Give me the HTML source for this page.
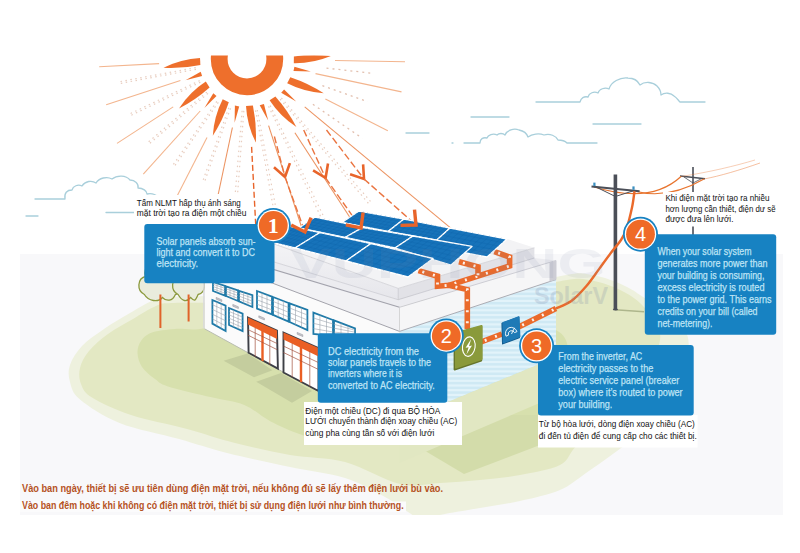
<!DOCTYPE html>
<html lang="vi"><head><meta charset="utf-8"><title>Solar</title>
<style>html,body{margin:0;padding:0;background:#fff;}svg{display:block}</style></head>
<body><svg width="800" height="553" viewBox="0 0 800 553">
<rect x="0" y="0" width="800" height="553" fill="#ffffff"/>
<rect x="20" y="254" width="763" height="261" fill="#f8f8fa"/>
<g fill="none" stroke="#a9cfdb" stroke-width="1.3" stroke-linecap="round" stroke-linejoin="round">
<path d="M35,199 H65 C64,193 67,190 72,190 C73,186 78,184 82,186 C85,181 92,180 96,183 C99,178 107,176 112,179 C117,175 126,175 130,180 C135,180 139,184 138,188 C143,188 147,191 147,194 C152,193 156,195 158,197 L163,198"/>
<path d="M26,216 H38 M106,212.5 H140"/>
<path d="M536,102 H580 C581,98 584,96 588,97 C589,93 594,91 598,93 C599,89 605,87 609,89 C611,82 620,77 628,78 C634,78 638,81 640,85 C645,81 653,82 657,86 C660,89 661,92 661,95 C665,92 671,93 674,96 C677,98 678,100 680,102 H705"/>
<path d="M471,117 H509 M593,124 H641 M406,133 H429 M452,143 H453 M464,143 H480 C480,139 483,137 487,138 C488,135 493,133 497,135 C499,133 503,133 505,135 C507,130 514,128 519,130 C524,131 527,134 528,137 C532,134 539,133 544,135 C550,133 556,136 558,140 C562,140 565,141 567,143 H597"/>
</g>
<defs><clipPath id="clipPic"><rect x="20" y="55.5" width="763" height="459.5"/></clipPath></defs>
<g clip-path="url(#clipPic)">
<path d="M172.0,297.0 C156.0,297.7 161.0,297.3 154.0,300.0 C147.0,302.7 138.3,308.2 130.0,313.0 C121.7,317.8 112.0,323.5 104.0,329.0 C96.0,334.5 87.7,340.0 82.0,346.0 C76.3,352.0 72.0,359.0 70.0,365.0 C68.0,371.0 68.3,376.2 70.0,382.0 C71.7,387.8 71.8,392.7 80.0,399.5 C88.2,406.3 103.0,416.4 119.5,423.0 C136.0,429.6 161.1,434.0 179.0,439.0 C196.9,444.0 208.5,448.3 227.0,453.0 C245.5,457.7 270.3,462.8 290.0,467.0 C309.7,471.2 329.2,473.0 345.0,478.0 C360.8,483.0 374.5,491.3 385.0,497.0 C395.5,502.7 401.5,508.0 408.0,512.0 C414.5,516.0 418.7,520.5 424.0,521.0 C429.3,521.5 430.7,517.2 440.0,515.0 C449.3,512.8 466.7,510.3 480.0,508.0 C493.3,505.7 506.7,504.0 520.0,501.0 C533.3,498.0 549.2,494.6 560.0,490.0 C570.8,485.4 575.5,480.2 585.0,473.7 C594.5,467.2 606.2,459.1 617.0,451.0 C627.8,442.9 640.3,435.2 650.0,425.0 C659.7,414.8 668.7,402.2 675.0,390.0 C681.3,377.8 686.3,362.0 688.0,352.0 C689.7,342.0 688.3,336.5 685.0,330.0 C681.7,323.5 674.8,318.4 668.0,313.0 C661.2,307.6 650.8,301.8 644.0,297.5 C637.2,293.2 633.5,290.2 627.0,287.0 C620.5,283.8 612.3,280.2 605.0,278.0 C597.7,275.8 588.5,274.2 583.0,273.5 C577.5,272.8 576.5,273.4 572.0,274.0 C567.5,274.6 563.0,275.7 556.0,277.0 C549.0,278.3 556.0,278.8 530.0,282.0 C504.0,285.2 446.7,293.7 400.0,296.0 C353.3,298.3 288.0,295.8 250.0,296.0 C212.0,296.2 188.0,296.3 172.0,297.0 Z" fill="#eef1de"/>
<path d="M174.0,303.0 C158.3,303.5 162.8,303.3 156.0,306.0 C149.2,308.7 141.0,314.3 133.0,319.0 C125.0,323.7 115.3,328.7 108.0,334.0 C100.7,339.3 93.7,345.3 89.0,351.0 C84.3,356.7 81.3,362.5 80.0,368.0 C78.7,373.5 79.0,379.1 81.0,384.0 C83.0,388.9 83.7,392.3 92.0,397.5 C100.3,402.7 115.2,409.8 131.0,415.0 C146.8,420.2 169.7,424.3 187.0,429.0 C204.3,433.7 217.8,438.7 235.0,443.0 C252.2,447.3 271.7,451.8 290.0,455.0 C308.3,458.2 326.7,457.2 345.0,462.0 C363.3,466.8 384.2,480.5 400.0,484.0 C415.8,487.5 426.7,483.7 440.0,483.0 C453.3,482.3 466.7,481.3 480.0,480.0 C493.3,478.7 506.7,477.5 520.0,475.0 C533.3,472.5 550.8,469.6 560.0,465.0 C569.2,460.4 568.3,454.2 575.0,447.5 C581.7,440.8 590.8,433.8 600.0,425.0 C609.2,416.2 621.7,405.0 630.0,395.0 C638.3,385.0 645.0,374.2 650.0,365.0 C655.0,355.8 659.0,347.2 660.0,340.0 C661.0,332.8 659.3,328.2 656.0,322.0 C652.7,315.8 645.2,307.9 640.0,303.0 C634.8,298.1 631.0,295.8 625.0,292.5 C619.0,289.2 611.0,285.8 604.0,283.5 C597.0,281.2 588.7,279.7 583.0,279.0 C577.3,278.3 574.5,279.0 570.0,279.5 C565.5,280.0 562.7,280.8 556.0,282.0 C549.3,283.2 556.0,283.8 530.0,287.0 C504.0,290.2 446.7,298.3 400.0,301.0 C353.3,303.7 287.7,302.7 250.0,303.0 C212.3,303.3 189.7,302.5 174.0,303.0 Z" fill="#e3e8c3"/>
<path d="M205.0,328.0 C192.5,331.2 183.8,328.2 175.0,329.0 C166.2,329.8 157.7,330.5 152.0,332.5 C146.3,334.5 143.4,337.6 141.0,341.0 C138.6,344.4 137.3,348.7 137.5,353.0 C137.7,357.3 139.1,362.7 142.0,367.0 C144.9,371.3 150.7,375.8 155.0,379.0 C159.3,382.2 158.6,383.3 168.0,386.4 C177.4,389.4 198.9,394.2 211.6,397.3 C224.3,400.4 234.4,400.9 244.2,404.9 C254.0,408.9 260.9,416.3 270.2,421.2 C279.5,426.1 291.7,431.4 300.0,434.2 C308.3,437.0 308.3,437.0 320.0,438.0 C331.7,439.0 353.3,440.2 370.0,440.0 C386.7,439.8 403.3,436.0 420.0,437.0 C436.7,438.0 455.8,445.5 470.0,446.0 C484.2,446.5 493.3,444.3 505.0,440.0 C516.7,435.7 531.5,426.7 540.0,420.0 C548.5,413.3 553.3,415.0 556.0,400.0 C558.7,385.0 582.0,343.3 556.0,330.0 C530.0,316.7 451.0,323.3 400.0,320.0 C349.0,316.7 282.5,308.7 250.0,310.0 C217.5,311.3 217.5,324.8 205.0,328.0 Z" fill="#d7e0ad"/>
<polygon points="400.0,436.0 464.0,474.0 540.0,445.0 540.0,415.0 400.0,415.0" fill="#d3dcaa"/>
</g>
<polygon points="223.6,360.8 247.5,353.4 272.4,370.2 254.0,377.3" fill="#c4cd9e"/>
<polygon points="256.2,381.7 281.0,373.0 312.0,391.0 292.0,402.7" fill="#c4cd9e"/>
<polygon points="399.5,422.0 556.0,357.0 556.0,396.0 399.5,463.0" fill="#e1e7c2"/>
<path d="M144.4,294.5 C136.4,290.5 137.4,278.5 145.4,276.5 C142.4,264.5 156.4,258.5 160.4,262.5 C168.4,256.5 182.4,266.5 176.4,276.5 C184.4,280.5 183.4,292.5 175.4,294.5 C172.4,301.5 166.4,301.5 162.4,297.5 C158.4,302.5 148.4,301.5 144.4,294.5 Z" fill="#e9ecdc" stroke="#8c9a3e" stroke-width="1.3"/>
<line x1="160.4" y1="294.5" x2="160.4" y2="328.0" stroke="#e0632a" stroke-width="2"/>
<path d="M178.1,294.5 C170.1,290.5 171.1,278.5 179.1,276.5 C176.1,264.5 184.6,258.5 188.6,262.5 C196.6,256.5 205.1,266.5 199.1,276.5 C207.1,280.5 206.1,292.5 198.1,294.5 C195.1,301.5 194.6,301.5 190.6,297.5 C186.6,302.5 182.1,301.5 178.1,294.5 Z" fill="#e9ecdc" stroke="#8c9a3e" stroke-width="1.3"/>
<line x1="188.6" y1="294.5" x2="188.6" y2="321.5" stroke="#e0632a" stroke-width="2"/>
<defs><clipPath id="clipTop"><rect x="20" y="55.5" width="763" height="460"/></clipPath></defs>
<g clip-path="url(#clipTop)">
<line x1="196.0" y1="69.3" x2="119.4" y2="83.6" stroke="#e8cdbf" stroke-width="1.2" stroke-dasharray="1.5 3.5"/>
<line x1="195.7" y1="67.6" x2="119.0" y2="81.8" stroke="#e8cdbf" stroke-width="1.2" stroke-dasharray="1.5 3.5"/>
<line x1="200.4" y1="82.2" x2="130.1" y2="115.8" stroke="#e8cdbf" stroke-width="1.2" stroke-dasharray="1.5 3.5"/>
<line x1="199.7" y1="80.6" x2="129.3" y2="114.1" stroke="#e8cdbf" stroke-width="1.2" stroke-dasharray="1.5 3.5"/>
<line x1="208.0" y1="93.4" x2="148.8" y2="144.2" stroke="#e8cdbf" stroke-width="1.2" stroke-dasharray="1.5 3.5"/>
<line x1="206.9" y1="92.1" x2="147.5" y2="142.7" stroke="#e8cdbf" stroke-width="1.2" stroke-dasharray="1.5 3.5"/>
<line x1="218.3" y1="102.3" x2="174.2" y2="166.7" stroke="#e8cdbf" stroke-width="1.2" stroke-dasharray="1.5 3.5"/>
<line x1="216.8" y1="101.4" x2="172.6" y2="165.6" stroke="#e8cdbf" stroke-width="1.2" stroke-dasharray="1.5 3.5"/>
<line x1="230.5" y1="108.3" x2="204.5" y2="181.9" stroke="#e8cdbf" stroke-width="1.2" stroke-dasharray="1.5 3.5"/>
<line x1="228.8" y1="107.7" x2="202.7" y2="181.2" stroke="#e8cdbf" stroke-width="1.2" stroke-dasharray="1.5 3.5"/>
<line x1="243.8" y1="110.9" x2="233.5" y2="248.5" stroke="#e8cdbf" stroke-width="1.2" stroke-dasharray="1.5 3.5"/>
<line x1="242.1" y1="110.8" x2="230.7" y2="248.3" stroke="#e8cdbf" stroke-width="1.2" stroke-dasharray="1.5 3.5"/>
<line x1="257.3" y1="110.0" x2="283.0" y2="245.6" stroke="#e8cdbf" stroke-width="1.2" stroke-dasharray="1.5 3.5"/>
<line x1="255.6" y1="110.3" x2="280.3" y2="246.1" stroke="#e8cdbf" stroke-width="1.2" stroke-dasharray="1.5 3.5"/>
<line x1="270.2" y1="105.6" x2="330.1" y2="229.9" stroke="#e8cdbf" stroke-width="1.2" stroke-dasharray="1.5 3.5"/>
<line x1="268.6" y1="106.3" x2="327.5" y2="231.1" stroke="#e8cdbf" stroke-width="1.2" stroke-dasharray="1.5 3.5"/>
<line x1="281.4" y1="98.0" x2="371.5" y2="202.6" stroke="#e8cdbf" stroke-width="1.2" stroke-dasharray="1.5 3.5"/>
<line x1="280.1" y1="99.1" x2="369.3" y2="204.4" stroke="#e8cdbf" stroke-width="1.2" stroke-dasharray="1.5 3.5"/>
<line x1="312.9" y1="104.3" x2="362.4" y2="138.3" stroke="#e2bfae" stroke-width="1.3" stroke-dasharray="2 4"/>
<line x1="322.4" y1="85.7" x2="367.7" y2="101.7" stroke="#e2bfae" stroke-width="1.3" stroke-dasharray="2 4"/>
<line x1="326.5" y1="68.1" x2="374.2" y2="73.5" stroke="#e2bfae" stroke-width="1.3" stroke-dasharray="2 4"/>
<line x1="159.1" y1="63.6" x2="99.2" y2="66.7" stroke="#f3b58e" stroke-width="1.1"/>
<line x1="180.4" y1="80.6" x2="106.2" y2="104.7" stroke="#f3b58e" stroke-width="1.1"/>
<line x1="173.2" y1="106.9" x2="117.0" y2="143.4" stroke="#f3b58e" stroke-width="1.1"/>
<line x1="200.2" y1="111.0" x2="143.3" y2="174.2" stroke="#f3b58e" stroke-width="1.1"/>
<line x1="207.0" y1="137.4" x2="176.6" y2="197.1" stroke="#f3b58e" stroke-width="1.1"/>
<line x1="232.4" y1="127.5" x2="218.3" y2="194.0" stroke="#ec9462" stroke-width="1.1"/>
<line x1="251.6" y1="146.9" x2="258.3" y2="273.7" stroke="#e8642a" stroke-width="1.4" stroke-dasharray="6 3"/>
<line x1="268.6" y1="125.6" x2="313.4" y2="263.5" stroke="#ec9462" stroke-width="1.1"/>
<line x1="294.9" y1="132.8" x2="364.1" y2="239.3" stroke="#ec9462" stroke-width="1.1"/>
<line x1="304.7" y1="106.9" x2="453.2" y2="230.2" stroke="#ec9462" stroke-width="1.1"/>
<line x1="325.4" y1="99.0" x2="387.8" y2="130.7" stroke="#f3b58e" stroke-width="1.1"/>
<line x1="315.5" y1="73.6" x2="401.5" y2="91.9" stroke="#f3b58e" stroke-width="1.1"/>
<line x1="335.0" y1="60.5" x2="405.0" y2="61.8" stroke="#f3b58e" stroke-width="1.1"/>
<path d="M200.4,64.9 L200.0,58.0 Q181.0,59.0 163.5,67.8 Q181.7,68.8 200.4,64.9 Z" fill="#ee6f2c"/>
<path d="M209.6,87.4 L205.8,81.6 Q189.8,92.0 179.0,108.4 Q195.3,100.1 209.6,87.4 Z" fill="#ee6f2c"/>
<path d="M228.8,102.3 L222.7,99.2 Q214.0,116.2 212.8,135.7 Q222.8,120.4 228.8,102.3 Z" fill="#ee6f2c"/>
<path d="M252.9,105.6 L246.0,106.0 Q247.0,125.0 255.8,142.5 Q256.8,124.3 252.9,105.6 Z" fill="#ee6f2c"/>
<path d="M275.4,96.4 L269.6,100.2 Q280.0,116.2 296.4,127.0 Q288.1,110.7 275.4,96.4 Z" fill="#ee6f2c"/>
<path d="M290.3,77.2 L287.2,83.3 Q304.2,92.0 323.7,93.2 Q308.4,83.2 290.3,77.2 Z" fill="#ee6f2c"/>
<path d="M293.9,56.4 L293.8,63.3 Q312.8,63.6 330.9,56.1 Q312.8,53.8 293.9,56.4 Z" fill="#ee6f2c"/>
<polygon points="202.1,75.9 200.7,71.7 185.5,80.2" fill="#ee6f2c"/>
<polygon points="216.5,96.1 213.3,93.2 204.4,108.1" fill="#ee6f2c"/>
<polygon points="239.2,106.4 234.9,105.5 234.6,122.8" fill="#ee6f2c"/>
<polygon points="263.9,103.9 259.7,105.3 268.2,120.5" fill="#ee6f2c"/>
<polygon points="284.1,89.5 281.2,92.7 296.1,101.6" fill="#ee6f2c"/>
<polygon points="294.4,66.8 293.5,71.1 310.8,71.4" fill="#ee6f2c"/>
<circle cx="247" cy="59" r="27.8" fill="none" stroke="#ee6f2c" stroke-width="16.8"/>
</g>
<line x1="274.4" y1="136.5" x2="285.0" y2="177.0" stroke="#ea7440" stroke-width="1.4" stroke-dasharray="7 3"/>
<path d="M274.0,167.3 L285.0,177.0 L289.9,163.1" fill="none" stroke="#e8642a" stroke-width="2.6" stroke-linejoin="miter"/>
<line x1="285.0" y1="177.0" x2="305.0" y2="232.0" stroke="#ea7440" stroke-width="1.4" stroke-dasharray="7 3"/>
<line x1="303.7" y1="130.0" x2="325.6" y2="178.0" stroke="#ea7440" stroke-width="1.4" stroke-dasharray="7 3"/>
<path d="M313.1,170.3 L325.6,178.0 L328.0,163.5" fill="none" stroke="#e8642a" stroke-width="2.6" stroke-linejoin="miter"/>
<line x1="325.6" y1="178.0" x2="361.0" y2="228.0" stroke="#ea7440" stroke-width="1.4" stroke-dasharray="7 3"/>
<line x1="326.5" y1="130.0" x2="364.0" y2="179.0" stroke="#ea7440" stroke-width="1.4" stroke-dasharray="7 3"/>
<path d="M350.1,174.3 L364.0,179.0 L363.1,164.3" fill="none" stroke="#e8642a" stroke-width="2.6" stroke-linejoin="miter"/>
<line x1="364.0" y1="179.0" x2="416.0" y2="225.0" stroke="#ea7440" stroke-width="1.4" stroke-dasharray="7 3"/>
<line x1="693.0" y1="167.0" x2="693.0" y2="236.0" stroke="#4b4f58" stroke-width="1.6"/>
<line x1="680.0" y1="176.0" x2="705.0" y2="178.7" stroke="#4b4f58" stroke-width="1.4"/>
<line x1="684.0" y1="177.0" x2="693.0" y2="183.0" stroke="#4b4f58" stroke-width="0.8"/>
<line x1="702.0" y1="178.4" x2="693.0" y2="183.0" stroke="#4b4f58" stroke-width="0.8"/>
<path d="M594,187 C630,198 660,196 681,176.5" fill="none" stroke="#e8742e" stroke-width="1.2"/>
<path d="M634.5,191 C660,198 685,190 704,179" fill="none" stroke="#e8742e" stroke-width="1.2"/>
<path d="M704,179 C720,176 740,170 760,163" fill="none" stroke="#e8742e" stroke-width="1" opacity="0.45"/>
<path d="M681,176.5 C710,172 735,166 755,160" fill="none" stroke="#e8742e" stroke-width="1" opacity="0.35"/>
<line x1="615.0" y1="309.8" x2="644.0" y2="311.8" stroke="#aeb68c" stroke-width="1.4"/>
<line x1="615.4" y1="174.5" x2="615.4" y2="309.5" stroke="#4b4f58" stroke-width="3.6"/>
<ellipse cx="615.4" cy="309.5" rx="2.6" ry="1" fill="#4b4f58"/>
<line x1="591.5" y1="186.5" x2="639.6" y2="191.3" stroke="#4b4f58" stroke-width="2"/>
<line x1="597.0" y1="187.5" x2="615.4" y2="196.5" stroke="#4b4f58" stroke-width="1"/>
<line x1="634.0" y1="190.6" x2="615.4" y2="196.5" stroke="#4b4f58" stroke-width="1"/>
<rect x="593.3" y="182.6" width="2.2" height="3.4" fill="#3b8fc0"/><rect x="632.4" y="186.4" width="2.2" height="3.4" fill="#3b8fc0"/>
<polygon points="399.5,331.0 556.0,279.5 556.0,357.0 399.5,422.0" fill="#cfe9f4"/>
<defs><clipPath id="clipWall"><polygon points="399.5,331 556,279.5 556,357 399.5,422"/></clipPath></defs>
<g clip-path="url(#clipWall)">
<rect x="399" y="281.0" width="158" height="2.2" fill="#e2f3fa"/>
<rect x="399" y="285.7" width="158" height="2.2" fill="#e2f3fa"/>
<rect x="399" y="290.4" width="158" height="2.2" fill="#e2f3fa"/>
<rect x="399" y="295.1" width="158" height="2.2" fill="#e2f3fa"/>
<rect x="399" y="299.8" width="158" height="2.2" fill="#e2f3fa"/>
<rect x="399" y="304.5" width="158" height="2.2" fill="#e2f3fa"/>
<rect x="399" y="309.2" width="158" height="2.2" fill="#e2f3fa"/>
<rect x="399" y="313.9" width="158" height="2.2" fill="#e2f3fa"/>
<rect x="399" y="318.6" width="158" height="2.2" fill="#e2f3fa"/>
<rect x="399" y="323.3" width="158" height="2.2" fill="#e2f3fa"/>
<rect x="399" y="328.0" width="158" height="2.2" fill="#e2f3fa"/>
<rect x="399" y="332.7" width="158" height="2.2" fill="#e2f3fa"/>
<rect x="399" y="337.4" width="158" height="2.2" fill="#e2f3fa"/>
<rect x="399" y="342.1" width="158" height="2.2" fill="#e2f3fa"/>
<rect x="399" y="346.8" width="158" height="2.2" fill="#e2f3fa"/>
<rect x="399" y="351.5" width="158" height="2.2" fill="#e2f3fa"/>
<rect x="399" y="356.2" width="158" height="2.2" fill="#e2f3fa"/>
<rect x="399" y="360.9" width="158" height="2.2" fill="#e2f3fa"/>
<rect x="399" y="365.6" width="158" height="2.2" fill="#e2f3fa"/>
<rect x="399" y="370.3" width="158" height="2.2" fill="#e2f3fa"/>
<rect x="399" y="375.0" width="158" height="2.2" fill="#e2f3fa"/>
<rect x="399" y="379.7" width="158" height="2.2" fill="#e2f3fa"/>
<rect x="399" y="384.4" width="158" height="2.2" fill="#e2f3fa"/>
<rect x="399" y="389.1" width="158" height="2.2" fill="#e2f3fa"/>
<rect x="399" y="393.8" width="158" height="2.2" fill="#e2f3fa"/>
<rect x="399" y="398.5" width="158" height="2.2" fill="#e2f3fa"/>
<rect x="399" y="403.2" width="158" height="2.2" fill="#e2f3fa"/>
<rect x="399" y="407.9" width="158" height="2.2" fill="#e2f3fa"/>
<rect x="399" y="412.6" width="158" height="2.2" fill="#e2f3fa"/>
<rect x="399" y="417.3" width="158" height="2.2" fill="#e2f3fa"/>
<rect x="399" y="422.0" width="158" height="2.2" fill="#e2f3fa"/>
</g>
<polygon points="204.7,250.0 399.5,331.0 399.5,436.0 204.7,328.9" fill="#fbfbfb"/>
<polygon points="204.7,262.0 204.7,328.9 203.2,328.0 203.2,262.0" fill="#d9d9dc"/>
<line x1="204.7" y1="328.9" x2="399.5" y2="436.0" stroke="#b9bdb0" stroke-width="1"/>
<polygon points="213.0,282.0 225.0,286.0 225.0,295.6 213.0,291.0" fill="#ffffff" stroke="#1f7aa8" stroke-width="1.8"/>
<line x1="217.0" y1="283.3" x2="217.0" y2="292.5" stroke="#9aa3ad" stroke-width="0.6"/>
<line x1="221.0" y1="284.7" x2="221.0" y2="294.1" stroke="#9aa3ad" stroke-width="0.6"/>
<line x1="213.0" y1="284.2" x2="225.0" y2="288.4" stroke="#9aa3ad" stroke-width="0.6"/>
<line x1="213.0" y1="286.5" x2="225.0" y2="290.8" stroke="#9aa3ad" stroke-width="0.6"/>
<line x1="213.0" y1="288.8" x2="225.0" y2="293.2" stroke="#9aa3ad" stroke-width="0.6"/>
<polygon points="226.0,286.4 238.0,290.4 238.0,301.0 226.0,296.0" fill="#ffffff" stroke="#1f7aa8" stroke-width="1.8"/>
<line x1="230.0" y1="287.7" x2="230.0" y2="297.7" stroke="#9aa3ad" stroke-width="0.6"/>
<line x1="234.0" y1="289.1" x2="234.0" y2="299.3" stroke="#9aa3ad" stroke-width="0.6"/>
<line x1="226.0" y1="288.8" x2="238.0" y2="293.0" stroke="#9aa3ad" stroke-width="0.6"/>
<line x1="226.0" y1="291.2" x2="238.0" y2="295.7" stroke="#9aa3ad" stroke-width="0.6"/>
<line x1="226.0" y1="293.6" x2="238.0" y2="298.4" stroke="#9aa3ad" stroke-width="0.6"/>
<polygon points="239.0,290.8 252.4,295.2 252.4,307.0 239.0,301.4" fill="#ffffff" stroke="#1f7aa8" stroke-width="1.8"/>
<line x1="243.5" y1="292.3" x2="243.5" y2="303.3" stroke="#9aa3ad" stroke-width="0.6"/>
<line x1="247.9" y1="293.7" x2="247.9" y2="305.1" stroke="#9aa3ad" stroke-width="0.6"/>
<line x1="239.0" y1="293.4" x2="252.4" y2="298.1" stroke="#9aa3ad" stroke-width="0.6"/>
<line x1="239.0" y1="296.1" x2="252.4" y2="301.1" stroke="#9aa3ad" stroke-width="0.6"/>
<line x1="239.0" y1="298.8" x2="252.4" y2="304.1" stroke="#9aa3ad" stroke-width="0.6"/>
<polygon points="257.0,291.0 272.0,296.6 272.0,314.4 257.0,308.6" fill="#ffffff" stroke="#1f7aa8" stroke-width="1.8"/>
<line x1="262.0" y1="292.9" x2="262.0" y2="310.5" stroke="#9aa3ad" stroke-width="0.6"/>
<line x1="267.0" y1="294.7" x2="267.0" y2="312.5" stroke="#9aa3ad" stroke-width="0.6"/>
<line x1="257.0" y1="295.4" x2="272.0" y2="301.1" stroke="#9aa3ad" stroke-width="0.6"/>
<line x1="257.0" y1="299.8" x2="272.0" y2="305.5" stroke="#9aa3ad" stroke-width="0.6"/>
<line x1="257.0" y1="304.2" x2="272.0" y2="309.9" stroke="#9aa3ad" stroke-width="0.6"/>
<polygon points="273.0,297.0 288.6,303.0 288.6,321.6 273.0,314.8" fill="#ffffff" stroke="#1f7aa8" stroke-width="1.8"/>
<line x1="278.2" y1="299.0" x2="278.2" y2="317.1" stroke="#9aa3ad" stroke-width="0.6"/>
<line x1="283.4" y1="301.0" x2="283.4" y2="319.3" stroke="#9aa3ad" stroke-width="0.6"/>
<line x1="273.0" y1="301.4" x2="288.6" y2="307.6" stroke="#9aa3ad" stroke-width="0.6"/>
<line x1="273.0" y1="305.9" x2="288.6" y2="312.3" stroke="#9aa3ad" stroke-width="0.6"/>
<line x1="273.0" y1="310.4" x2="288.6" y2="317.0" stroke="#9aa3ad" stroke-width="0.6"/>
<polygon points="289.6,303.4 307.4,310.0 307.4,330.0 289.6,322.0" fill="#ffffff" stroke="#1f7aa8" stroke-width="1.8"/>
<line x1="295.5" y1="305.6" x2="295.5" y2="324.7" stroke="#9aa3ad" stroke-width="0.6"/>
<line x1="301.5" y1="307.8" x2="301.5" y2="327.3" stroke="#9aa3ad" stroke-width="0.6"/>
<line x1="289.6" y1="308.0" x2="307.4" y2="315.0" stroke="#9aa3ad" stroke-width="0.6"/>
<line x1="289.6" y1="312.7" x2="307.4" y2="320.0" stroke="#9aa3ad" stroke-width="0.6"/>
<line x1="289.6" y1="317.4" x2="307.4" y2="325.0" stroke="#9aa3ad" stroke-width="0.6"/>
<polygon points="313.4,312.6 333.0,320.0 333.0,336.0 313.4,334.0" fill="#ffffff" stroke="#1f7aa8" stroke-width="1.8"/>
<line x1="319.9" y1="315.1" x2="319.9" y2="334.7" stroke="#9aa3ad" stroke-width="0.6"/>
<line x1="326.5" y1="317.5" x2="326.5" y2="335.3" stroke="#9aa3ad" stroke-width="0.6"/>
<line x1="313.4" y1="318.0" x2="333.0" y2="324.0" stroke="#9aa3ad" stroke-width="0.6"/>
<line x1="313.4" y1="323.3" x2="333.0" y2="328.0" stroke="#9aa3ad" stroke-width="0.6"/>
<line x1="313.4" y1="328.6" x2="333.0" y2="332.0" stroke="#9aa3ad" stroke-width="0.6"/>
<polygon points="334.0,320.4 355.0,328.4 355.0,336.0 334.0,336.0" fill="#ffffff" stroke="#1f7aa8" stroke-width="1.8"/>
<line x1="341.0" y1="323.1" x2="341.0" y2="336.0" stroke="#9aa3ad" stroke-width="0.6"/>
<line x1="348.0" y1="325.7" x2="348.0" y2="336.0" stroke="#9aa3ad" stroke-width="0.6"/>
<line x1="334.0" y1="324.3" x2="355.0" y2="330.3" stroke="#9aa3ad" stroke-width="0.6"/>
<line x1="334.0" y1="328.2" x2="355.0" y2="332.2" stroke="#9aa3ad" stroke-width="0.6"/>
<line x1="334.0" y1="332.1" x2="355.0" y2="334.1" stroke="#9aa3ad" stroke-width="0.6"/>
<polygon points="212.4,300.0 225.6,305.6 225.6,331.0 212.4,323.6" fill="#ffffff" stroke="#1f7aa8" stroke-width="1.8"/>
<line x1="216.8" y1="301.9" x2="216.8" y2="326.1" stroke="#9aa3ad" stroke-width="0.6"/>
<line x1="221.2" y1="303.7" x2="221.2" y2="328.5" stroke="#9aa3ad" stroke-width="0.6"/>
<line x1="212.4" y1="304.7" x2="225.6" y2="310.7" stroke="#9aa3ad" stroke-width="0.6"/>
<line x1="212.4" y1="309.4" x2="225.6" y2="315.8" stroke="#9aa3ad" stroke-width="0.6"/>
<line x1="212.4" y1="314.2" x2="225.6" y2="320.8" stroke="#9aa3ad" stroke-width="0.6"/>
<line x1="212.4" y1="318.9" x2="225.6" y2="325.9" stroke="#9aa3ad" stroke-width="0.6"/>
<polygon points="229.0,308.0 242.6,313.6 242.6,331.0 229.0,325.0" fill="#ffffff" stroke="#1f7aa8" stroke-width="1.8"/>
<line x1="233.5" y1="309.9" x2="233.5" y2="327.0" stroke="#9aa3ad" stroke-width="0.6"/>
<line x1="238.1" y1="311.7" x2="238.1" y2="329.0" stroke="#9aa3ad" stroke-width="0.6"/>
<line x1="229.0" y1="311.4" x2="242.6" y2="317.1" stroke="#9aa3ad" stroke-width="0.6"/>
<line x1="229.0" y1="314.8" x2="242.6" y2="320.6" stroke="#9aa3ad" stroke-width="0.6"/>
<line x1="229.0" y1="318.2" x2="242.6" y2="324.0" stroke="#9aa3ad" stroke-width="0.6"/>
<line x1="229.0" y1="321.6" x2="242.6" y2="327.5" stroke="#9aa3ad" stroke-width="0.6"/>
<polygon points="216.2,297.4 221.8,299.8 221.8,301.6 216.2,299.2" fill="#c9c9cf" stroke="#8e8e96" stroke-width="0.5"/>
<polygon points="232.8,304.4 238.4,306.8 238.4,308.6 232.8,306.2" fill="#c9c9cf" stroke="#8e8e96" stroke-width="0.5"/>
<polygon points="258.8,315.8 264.4,318.2 264.4,320.0 258.8,317.6" fill="#c9c9cf" stroke="#8e8e96" stroke-width="0.5"/>
<polygon points="297.2,332.4 302.8,334.8 302.8,336.6 297.2,334.2" fill="#c9c9cf" stroke="#8e8e96" stroke-width="0.5"/>
<polygon points="248.0,317.6 277.0,330.6 277.9,368.6 248.6,352.8" fill="#ffffff" stroke="#3d3f46" stroke-width="1.9"/>
<polygon points="248.0,317.6 277.0,330.6 277.0,339.1 248.0,324.6" fill="#ea5f24"/>
<polygon points="261.3,324.1 263.7,324.9 263.7,361.5 261.3,360.7" fill="#ea5f24"/>
<line x1="255.2" y1="327.9" x2="255.2" y2="356.8" stroke="#a4523e" stroke-width="0.7"/>
<line x1="269.8" y1="334.4" x2="269.8" y2="364.7" stroke="#a4523e" stroke-width="0.7"/>
<line x1="248.0" y1="329.6" x2="277.0" y2="343.5" stroke="#a4523e" stroke-width="0.7"/>
<line x1="248.0" y1="335.2" x2="277.0" y2="349.6" stroke="#a4523e" stroke-width="0.7"/>
<polygon points="283.5,332.5 318.5,348.0 318.5,391.0 283.5,372.5" fill="#ffffff" stroke="#3d3f46" stroke-width="1.9"/>
<polygon points="283.5,332.5 318.5,348.0 318.5,356.5 283.5,339.5" fill="#ea5f24"/>
<polygon points="299.8,340.2 302.2,341.1 302.2,382.6 299.8,381.8" fill="#ea5f24"/>
<line x1="292.2" y1="343.4" x2="292.2" y2="377.1" stroke="#a4523e" stroke-width="0.7"/>
<line x1="309.8" y1="351.1" x2="309.8" y2="386.4" stroke="#a4523e" stroke-width="0.7"/>
<line x1="283.5" y1="346.1" x2="318.5" y2="362.6" stroke="#a4523e" stroke-width="0.7"/>
<line x1="283.5" y1="352.5" x2="318.5" y2="369.5" stroke="#a4523e" stroke-width="0.7"/>
<defs><linearGradient id="gUp" x1="0" y1="0" x2="0" y2="1"><stop offset="0" stop-color="#fafafb"/><stop offset="1" stop-color="#e6e6eb"/></linearGradient></defs>
<polygon points="200.0,247.4 399.5,307.3 399.5,331.4 200.0,255.6" fill="#f1f1f4"/>
<polygon points="399.5,307.3 556.0,260.5 556.0,279.5 399.5,331.4" fill="#f6f6f7"/>
<polygon points="200.0,239.5 398.2,299.7 534.4,258.0 556.0,260.5 399.5,307.3 200.0,247.4" fill="#ececf0"/>
<line x1="200.0" y1="255.6" x2="399.5" y2="331.4" stroke="#9a9aa3" stroke-width="0.9"/>
<line x1="399.5" y1="331.4" x2="556.0" y2="279.5" stroke="#a5a5ae" stroke-width="0.9"/>
<line x1="200.0" y1="247.4" x2="399.5" y2="307.3" stroke="#a3a3ad" stroke-width="1.2"/>
<line x1="399.5" y1="307.3" x2="556.0" y2="260.5" stroke="#c4c4cb" stroke-width="0.8"/>
<line x1="399.5" y1="307.3" x2="399.5" y2="331.4" stroke="#c9c9cf" stroke-width="0.7"/>
<polygon points="549.5,262.4 556.5,260.4 556.5,279.4 549.5,281.6" fill="#cdcdd5"/>
<polygon points="200.0,217.5 398.2,288.4 398.2,299.7 200.0,239.5" fill="url(#gUp)"/>
<polygon points="398.2,288.4 534.4,247.8 534.4,258.0 398.2,299.7" fill="#e2e2e7"/>
<polygon points="200.0,217.5 398.2,288.4 534.4,247.8 507.0,239.0 450.0,228.0 437.0,240.0 388.0,231.5 345.0,237.5 299.0,228.0 285.0,226.0 250.0,226.0" fill="#f3f3f5"/>
<line x1="200.0" y1="217.5" x2="398.2" y2="288.4" stroke="#d0d0d6" stroke-width="0.8"/>
<line x1="398.2" y1="288.4" x2="534.4" y2="247.8" stroke="#d0d0d6" stroke-width="0.8"/>
<line x1="200.0" y1="239.5" x2="398.2" y2="299.7" stroke="#c9c9d0" stroke-width="0.7"/>
<line x1="398.2" y1="299.7" x2="534.4" y2="258.0" stroke="#c0c0c8" stroke-width="0.7"/>
<line x1="398.2" y1="288.4" x2="398.2" y2="299.7" stroke="#c6c6cc" stroke-width="0.7"/>
<path d="M494.4,251.6 L509.6,257.0 L509.6,266.0 L448.9,285.3" fill="none" stroke="#ea6a2b" stroke-width="5.6" stroke-linejoin="miter"/>
<path d="M494.4,251.6 L509.6,257.0 L509.6,266.0 L448.9,285.3" fill="none" stroke="#ffffff" stroke-width="2.8" stroke-dasharray="2 9" stroke-dashoffset="-4" opacity="0.9"/>
<path d="M459.0,261.8 L478.0,266.8 L478.0,276.0" fill="none" stroke="#ea6a2b" stroke-width="5.6" stroke-linejoin="miter"/>
<path d="M459.0,261.8 L478.0,266.8 L478.0,276.0" fill="none" stroke="#ffffff" stroke-width="2.8" stroke-dasharray="2 9" stroke-dashoffset="-4" opacity="0.9"/>
<path d="M418.5,270.6 L437.5,276.2 L437.5,286.3 L448.9,285.3 L467.3,289.6 L467.3,328.9" fill="none" stroke="#ea6a2b" stroke-width="5.6" stroke-linejoin="miter"/>
<path d="M418.5,270.6 L437.5,276.2 L437.5,286.3 L448.9,285.3 L467.3,289.6 L467.3,328.9" fill="none" stroke="#ffffff" stroke-width="2.8" stroke-dasharray="2 9" stroke-dashoffset="-4" opacity="0.9"/>
<path d="M481.0,342.0 L502.0,334.0" fill="none" stroke="#ea6a2b" stroke-width="5.6" stroke-linejoin="miter"/>
<path d="M481.0,342.0 L502.0,334.0" fill="none" stroke="#ffffff" stroke-width="2.8" stroke-dasharray="2 9" stroke-dashoffset="-4" opacity="0.9"/>
<path d="M518.6,327.0 L556.0,308.5" fill="none" stroke="#ea6a2b" stroke-width="5.6" stroke-linejoin="miter"/>
<path d="M518.6,327.0 L556.0,308.5" fill="none" stroke="#ffffff" stroke-width="2.8" stroke-dasharray="2 9" stroke-dashoffset="-4" opacity="0.9"/>
<path d="M556.0,308.5 C558.6,307.2 566.7,304.5 571.7,300.8 C576.7,297.1 581.6,291.6 586.2,286.3 C590.8,281.0 595.1,274.4 599.2,268.9 C603.3,263.3 607.2,257.8 610.8,253.0 C614.4,248.2 618.3,244.2 621.0,240.0 C623.7,235.8 625.0,233.2 626.8,227.8 C628.6,222.4 630.7,213.7 632.0,207.6 C633.3,201.5 634.1,194.0 634.5,191.3" fill="none" stroke="#ea6a2b" stroke-width="2.4"/>
<polygon points="359.0,211.0 404.0,219.0 388.0,231.5 342.0,222.5" fill="#1773ba" stroke="#ffffff" stroke-width="1.3" stroke-linejoin="round"/>
<line x1="363.5" y1="211.8" x2="346.6" y2="223.4" stroke="#0f62a8" stroke-width="0.5" opacity="0.55"/>
<line x1="368.0" y1="212.6" x2="351.2" y2="224.3" stroke="#0f62a8" stroke-width="0.5" opacity="0.55"/>
<line x1="372.5" y1="213.4" x2="355.8" y2="225.2" stroke="#0f62a8" stroke-width="0.5" opacity="0.55"/>
<line x1="377.0" y1="214.2" x2="360.4" y2="226.1" stroke="#0f62a8" stroke-width="0.5" opacity="0.55"/>
<line x1="381.5" y1="215.0" x2="365.0" y2="227.0" stroke="#0f62a8" stroke-width="0.5" opacity="0.55"/>
<line x1="386.0" y1="215.8" x2="369.6" y2="227.9" stroke="#0f62a8" stroke-width="0.5" opacity="0.55"/>
<line x1="390.5" y1="216.6" x2="374.2" y2="228.8" stroke="#0f62a8" stroke-width="0.5" opacity="0.55"/>
<line x1="395.0" y1="217.4" x2="378.8" y2="229.7" stroke="#0f62a8" stroke-width="0.5" opacity="0.55"/>
<line x1="399.5" y1="218.2" x2="383.4" y2="230.6" stroke="#0f62a8" stroke-width="0.5" opacity="0.55"/>
<line x1="355.6" y1="213.3" x2="400.8" y2="221.5" stroke="#0f62a8" stroke-width="0.5" opacity="0.55"/>
<line x1="352.2" y1="215.6" x2="397.6" y2="224.0" stroke="#0f62a8" stroke-width="0.5" opacity="0.55"/>
<line x1="348.8" y1="217.9" x2="394.4" y2="226.5" stroke="#0f62a8" stroke-width="0.5" opacity="0.55"/>
<line x1="345.4" y1="220.2" x2="391.2" y2="229.0" stroke="#0f62a8" stroke-width="0.5" opacity="0.55"/>
<polygon points="404.0,219.0 450.0,228.0 437.0,240.2 388.0,231.5" fill="#1773ba" stroke="#ffffff" stroke-width="1.3" stroke-linejoin="round"/>
<line x1="408.6" y1="219.9" x2="392.9" y2="232.4" stroke="#0f62a8" stroke-width="0.5" opacity="0.55"/>
<line x1="413.2" y1="220.8" x2="397.8" y2="233.2" stroke="#0f62a8" stroke-width="0.5" opacity="0.55"/>
<line x1="417.8" y1="221.7" x2="402.7" y2="234.1" stroke="#0f62a8" stroke-width="0.5" opacity="0.55"/>
<line x1="422.4" y1="222.6" x2="407.6" y2="235.0" stroke="#0f62a8" stroke-width="0.5" opacity="0.55"/>
<line x1="427.0" y1="223.5" x2="412.5" y2="235.8" stroke="#0f62a8" stroke-width="0.5" opacity="0.55"/>
<line x1="431.6" y1="224.4" x2="417.4" y2="236.7" stroke="#0f62a8" stroke-width="0.5" opacity="0.55"/>
<line x1="436.2" y1="225.3" x2="422.3" y2="237.6" stroke="#0f62a8" stroke-width="0.5" opacity="0.55"/>
<line x1="440.8" y1="226.2" x2="427.2" y2="238.5" stroke="#0f62a8" stroke-width="0.5" opacity="0.55"/>
<line x1="445.4" y1="227.1" x2="432.1" y2="239.3" stroke="#0f62a8" stroke-width="0.5" opacity="0.55"/>
<line x1="400.8" y1="221.5" x2="447.4" y2="230.4" stroke="#0f62a8" stroke-width="0.5" opacity="0.55"/>
<line x1="397.6" y1="224.0" x2="444.8" y2="232.9" stroke="#0f62a8" stroke-width="0.5" opacity="0.55"/>
<line x1="394.4" y1="226.5" x2="442.2" y2="235.3" stroke="#0f62a8" stroke-width="0.5" opacity="0.55"/>
<line x1="391.2" y1="229.0" x2="439.6" y2="237.8" stroke="#0f62a8" stroke-width="0.5" opacity="0.55"/>
<polygon points="450.0,228.0 507.0,239.0 487.0,257.0 430.0,246.0" fill="#1773ba" stroke="#ffffff" stroke-width="1.3" stroke-linejoin="round"/>
<line x1="455.7" y1="229.1" x2="435.7" y2="247.1" stroke="#0f62a8" stroke-width="0.5" opacity="0.55"/>
<line x1="461.4" y1="230.2" x2="441.4" y2="248.2" stroke="#0f62a8" stroke-width="0.5" opacity="0.55"/>
<line x1="467.1" y1="231.3" x2="447.1" y2="249.3" stroke="#0f62a8" stroke-width="0.5" opacity="0.55"/>
<line x1="472.8" y1="232.4" x2="452.8" y2="250.4" stroke="#0f62a8" stroke-width="0.5" opacity="0.55"/>
<line x1="478.5" y1="233.5" x2="458.5" y2="251.5" stroke="#0f62a8" stroke-width="0.5" opacity="0.55"/>
<line x1="484.2" y1="234.6" x2="464.2" y2="252.6" stroke="#0f62a8" stroke-width="0.5" opacity="0.55"/>
<line x1="489.9" y1="235.7" x2="469.9" y2="253.7" stroke="#0f62a8" stroke-width="0.5" opacity="0.55"/>
<line x1="495.6" y1="236.8" x2="475.6" y2="254.8" stroke="#0f62a8" stroke-width="0.5" opacity="0.55"/>
<line x1="501.3" y1="237.9" x2="481.3" y2="255.9" stroke="#0f62a8" stroke-width="0.5" opacity="0.55"/>
<line x1="446.0" y1="231.6" x2="503.0" y2="242.6" stroke="#0f62a8" stroke-width="0.5" opacity="0.55"/>
<line x1="442.0" y1="235.2" x2="499.0" y2="246.2" stroke="#0f62a8" stroke-width="0.5" opacity="0.55"/>
<line x1="438.0" y1="238.8" x2="495.0" y2="249.8" stroke="#0f62a8" stroke-width="0.5" opacity="0.55"/>
<line x1="434.0" y1="242.4" x2="491.0" y2="253.4" stroke="#0f62a8" stroke-width="0.5" opacity="0.55"/>
<polygon points="315.0,217.0 363.0,227.0 345.0,237.5 299.0,228.0" fill="#1773ba" stroke="#ffffff" stroke-width="1.3" stroke-linejoin="round"/>
<line x1="319.8" y1="218.0" x2="303.6" y2="228.9" stroke="#0f62a8" stroke-width="0.5" opacity="0.55"/>
<line x1="324.6" y1="219.0" x2="308.2" y2="229.9" stroke="#0f62a8" stroke-width="0.5" opacity="0.55"/>
<line x1="329.4" y1="220.0" x2="312.8" y2="230.8" stroke="#0f62a8" stroke-width="0.5" opacity="0.55"/>
<line x1="334.2" y1="221.0" x2="317.4" y2="231.8" stroke="#0f62a8" stroke-width="0.5" opacity="0.55"/>
<line x1="339.0" y1="222.0" x2="322.0" y2="232.8" stroke="#0f62a8" stroke-width="0.5" opacity="0.55"/>
<line x1="343.8" y1="223.0" x2="326.6" y2="233.7" stroke="#0f62a8" stroke-width="0.5" opacity="0.55"/>
<line x1="348.6" y1="224.0" x2="331.2" y2="234.7" stroke="#0f62a8" stroke-width="0.5" opacity="0.55"/>
<line x1="353.4" y1="225.0" x2="335.8" y2="235.6" stroke="#0f62a8" stroke-width="0.5" opacity="0.55"/>
<line x1="358.2" y1="226.0" x2="340.4" y2="236.6" stroke="#0f62a8" stroke-width="0.5" opacity="0.55"/>
<line x1="311.8" y1="219.2" x2="359.4" y2="229.1" stroke="#0f62a8" stroke-width="0.5" opacity="0.55"/>
<line x1="308.6" y1="221.4" x2="355.8" y2="231.2" stroke="#0f62a8" stroke-width="0.5" opacity="0.55"/>
<line x1="305.4" y1="223.6" x2="352.2" y2="233.3" stroke="#0f62a8" stroke-width="0.5" opacity="0.55"/>
<line x1="302.2" y1="225.8" x2="348.6" y2="235.4" stroke="#0f62a8" stroke-width="0.5" opacity="0.55"/>
<polygon points="363.0,227.5 413.0,236.0 395.0,248.0 345.0,237.5" fill="#1773ba" stroke="#ffffff" stroke-width="1.3" stroke-linejoin="round"/>
<line x1="368.0" y1="228.3" x2="350.0" y2="238.6" stroke="#0f62a8" stroke-width="0.5" opacity="0.55"/>
<line x1="373.0" y1="229.2" x2="355.0" y2="239.6" stroke="#0f62a8" stroke-width="0.5" opacity="0.55"/>
<line x1="378.0" y1="230.1" x2="360.0" y2="240.7" stroke="#0f62a8" stroke-width="0.5" opacity="0.55"/>
<line x1="383.0" y1="230.9" x2="365.0" y2="241.7" stroke="#0f62a8" stroke-width="0.5" opacity="0.55"/>
<line x1="388.0" y1="231.8" x2="370.0" y2="242.8" stroke="#0f62a8" stroke-width="0.5" opacity="0.55"/>
<line x1="393.0" y1="232.6" x2="375.0" y2="243.8" stroke="#0f62a8" stroke-width="0.5" opacity="0.55"/>
<line x1="398.0" y1="233.4" x2="380.0" y2="244.8" stroke="#0f62a8" stroke-width="0.5" opacity="0.55"/>
<line x1="403.0" y1="234.3" x2="385.0" y2="245.9" stroke="#0f62a8" stroke-width="0.5" opacity="0.55"/>
<line x1="408.0" y1="235.2" x2="390.0" y2="246.9" stroke="#0f62a8" stroke-width="0.5" opacity="0.55"/>
<line x1="359.4" y1="229.5" x2="409.4" y2="238.4" stroke="#0f62a8" stroke-width="0.5" opacity="0.55"/>
<line x1="355.8" y1="231.5" x2="405.8" y2="240.8" stroke="#0f62a8" stroke-width="0.5" opacity="0.55"/>
<line x1="352.2" y1="233.5" x2="402.2" y2="243.2" stroke="#0f62a8" stroke-width="0.5" opacity="0.55"/>
<line x1="348.6" y1="235.5" x2="398.6" y2="245.6" stroke="#0f62a8" stroke-width="0.5" opacity="0.55"/>
<polygon points="413.0,236.0 472.0,246.4 451.0,265.0 395.0,248.0" fill="#1773ba" stroke="#ffffff" stroke-width="1.3" stroke-linejoin="round"/>
<line x1="418.9" y1="237.0" x2="400.6" y2="249.7" stroke="#0f62a8" stroke-width="0.5" opacity="0.55"/>
<line x1="424.8" y1="238.1" x2="406.2" y2="251.4" stroke="#0f62a8" stroke-width="0.5" opacity="0.55"/>
<line x1="430.7" y1="239.1" x2="411.8" y2="253.1" stroke="#0f62a8" stroke-width="0.5" opacity="0.55"/>
<line x1="436.6" y1="240.2" x2="417.4" y2="254.8" stroke="#0f62a8" stroke-width="0.5" opacity="0.55"/>
<line x1="442.5" y1="241.2" x2="423.0" y2="256.5" stroke="#0f62a8" stroke-width="0.5" opacity="0.55"/>
<line x1="448.4" y1="242.2" x2="428.6" y2="258.2" stroke="#0f62a8" stroke-width="0.5" opacity="0.55"/>
<line x1="454.3" y1="243.3" x2="434.2" y2="259.9" stroke="#0f62a8" stroke-width="0.5" opacity="0.55"/>
<line x1="460.2" y1="244.3" x2="439.8" y2="261.6" stroke="#0f62a8" stroke-width="0.5" opacity="0.55"/>
<line x1="466.1" y1="245.4" x2="445.4" y2="263.3" stroke="#0f62a8" stroke-width="0.5" opacity="0.55"/>
<line x1="409.4" y1="238.4" x2="467.8" y2="250.1" stroke="#0f62a8" stroke-width="0.5" opacity="0.55"/>
<line x1="405.8" y1="240.8" x2="463.6" y2="253.8" stroke="#0f62a8" stroke-width="0.5" opacity="0.55"/>
<line x1="402.2" y1="243.2" x2="459.4" y2="257.6" stroke="#0f62a8" stroke-width="0.5" opacity="0.55"/>
<line x1="398.6" y1="245.6" x2="455.2" y2="261.3" stroke="#0f62a8" stroke-width="0.5" opacity="0.55"/>
<polygon points="285.0,225.3 320.0,232.5 295.0,248.0 262.0,240.0" fill="#1773ba" stroke="#ffffff" stroke-width="1.3" stroke-linejoin="round"/>
<line x1="288.5" y1="226.0" x2="265.3" y2="240.8" stroke="#0f62a8" stroke-width="0.5" opacity="0.55"/>
<line x1="292.0" y1="226.7" x2="268.6" y2="241.6" stroke="#0f62a8" stroke-width="0.5" opacity="0.55"/>
<line x1="295.5" y1="227.5" x2="271.9" y2="242.4" stroke="#0f62a8" stroke-width="0.5" opacity="0.55"/>
<line x1="299.0" y1="228.2" x2="275.2" y2="243.2" stroke="#0f62a8" stroke-width="0.5" opacity="0.55"/>
<line x1="302.5" y1="228.9" x2="278.5" y2="244.0" stroke="#0f62a8" stroke-width="0.5" opacity="0.55"/>
<line x1="306.0" y1="229.6" x2="281.8" y2="244.8" stroke="#0f62a8" stroke-width="0.5" opacity="0.55"/>
<line x1="309.5" y1="230.3" x2="285.1" y2="245.6" stroke="#0f62a8" stroke-width="0.5" opacity="0.55"/>
<line x1="313.0" y1="231.1" x2="288.4" y2="246.4" stroke="#0f62a8" stroke-width="0.5" opacity="0.55"/>
<line x1="316.5" y1="231.8" x2="291.7" y2="247.2" stroke="#0f62a8" stroke-width="0.5" opacity="0.55"/>
<line x1="280.4" y1="228.2" x2="315.0" y2="235.6" stroke="#0f62a8" stroke-width="0.5" opacity="0.55"/>
<line x1="275.8" y1="231.2" x2="310.0" y2="238.7" stroke="#0f62a8" stroke-width="0.5" opacity="0.55"/>
<line x1="271.2" y1="234.1" x2="305.0" y2="241.8" stroke="#0f62a8" stroke-width="0.5" opacity="0.55"/>
<line x1="266.6" y1="237.1" x2="300.0" y2="244.9" stroke="#0f62a8" stroke-width="0.5" opacity="0.55"/>
<polygon points="320.0,232.5 371.0,243.5 346.0,261.0 295.0,248.0" fill="#1773ba" stroke="#ffffff" stroke-width="1.3" stroke-linejoin="round"/>
<line x1="325.1" y1="233.6" x2="300.1" y2="249.3" stroke="#0f62a8" stroke-width="0.5" opacity="0.55"/>
<line x1="330.2" y1="234.7" x2="305.2" y2="250.6" stroke="#0f62a8" stroke-width="0.5" opacity="0.55"/>
<line x1="335.3" y1="235.8" x2="310.3" y2="251.9" stroke="#0f62a8" stroke-width="0.5" opacity="0.55"/>
<line x1="340.4" y1="236.9" x2="315.4" y2="253.2" stroke="#0f62a8" stroke-width="0.5" opacity="0.55"/>
<line x1="345.5" y1="238.0" x2="320.5" y2="254.5" stroke="#0f62a8" stroke-width="0.5" opacity="0.55"/>
<line x1="350.6" y1="239.1" x2="325.6" y2="255.8" stroke="#0f62a8" stroke-width="0.5" opacity="0.55"/>
<line x1="355.7" y1="240.2" x2="330.7" y2="257.1" stroke="#0f62a8" stroke-width="0.5" opacity="0.55"/>
<line x1="360.8" y1="241.3" x2="335.8" y2="258.4" stroke="#0f62a8" stroke-width="0.5" opacity="0.55"/>
<line x1="365.9" y1="242.4" x2="340.9" y2="259.7" stroke="#0f62a8" stroke-width="0.5" opacity="0.55"/>
<line x1="315.0" y1="235.6" x2="366.0" y2="247.0" stroke="#0f62a8" stroke-width="0.5" opacity="0.55"/>
<line x1="310.0" y1="238.7" x2="361.0" y2="250.5" stroke="#0f62a8" stroke-width="0.5" opacity="0.55"/>
<line x1="305.0" y1="241.8" x2="356.0" y2="254.0" stroke="#0f62a8" stroke-width="0.5" opacity="0.55"/>
<line x1="300.0" y1="244.9" x2="351.0" y2="257.5" stroke="#0f62a8" stroke-width="0.5" opacity="0.55"/>
<polygon points="371.0,243.5 433.0,258.5 408.0,277.0 346.0,261.0" fill="#1773ba" stroke="#ffffff" stroke-width="1.3" stroke-linejoin="round"/>
<line x1="377.2" y1="245.0" x2="352.2" y2="262.6" stroke="#0f62a8" stroke-width="0.5" opacity="0.55"/>
<line x1="383.4" y1="246.5" x2="358.4" y2="264.2" stroke="#0f62a8" stroke-width="0.5" opacity="0.55"/>
<line x1="389.6" y1="248.0" x2="364.6" y2="265.8" stroke="#0f62a8" stroke-width="0.5" opacity="0.55"/>
<line x1="395.8" y1="249.5" x2="370.8" y2="267.4" stroke="#0f62a8" stroke-width="0.5" opacity="0.55"/>
<line x1="402.0" y1="251.0" x2="377.0" y2="269.0" stroke="#0f62a8" stroke-width="0.5" opacity="0.55"/>
<line x1="408.2" y1="252.5" x2="383.2" y2="270.6" stroke="#0f62a8" stroke-width="0.5" opacity="0.55"/>
<line x1="414.4" y1="254.0" x2="389.4" y2="272.2" stroke="#0f62a8" stroke-width="0.5" opacity="0.55"/>
<line x1="420.6" y1="255.5" x2="395.6" y2="273.8" stroke="#0f62a8" stroke-width="0.5" opacity="0.55"/>
<line x1="426.8" y1="257.0" x2="401.8" y2="275.4" stroke="#0f62a8" stroke-width="0.5" opacity="0.55"/>
<line x1="366.0" y1="247.0" x2="428.0" y2="262.2" stroke="#0f62a8" stroke-width="0.5" opacity="0.55"/>
<line x1="361.0" y1="250.5" x2="423.0" y2="265.9" stroke="#0f62a8" stroke-width="0.5" opacity="0.55"/>
<line x1="356.0" y1="254.0" x2="418.0" y2="269.6" stroke="#0f62a8" stroke-width="0.5" opacity="0.55"/>
<line x1="351.0" y1="257.5" x2="413.0" y2="273.3" stroke="#0f62a8" stroke-width="0.5" opacity="0.55"/>
<path d="M291.2,225.0 L305.0,232.0 L311.1,217.7" fill="none" stroke="#e8642a" stroke-width="3.4" stroke-linejoin="miter"/>
<path d="M345.8,224.9 L361.0,228.0 L363.1,212.6" fill="none" stroke="#e8642a" stroke-width="3.4" stroke-linejoin="miter"/>
<path d="M400.5,225.4 L416.0,225.0 L414.5,209.6" fill="none" stroke="#e8642a" stroke-width="3.4" stroke-linejoin="miter"/>
<polygon points="454.6,334.0 481.2,326.8 481.2,360.5 454.6,369.5" fill="#66752b" stroke="#66752b" stroke-width="2" stroke-linejoin="round"/>
<polygon points="456.0,333.0 481.6,326.0 481.6,359.0 456.0,367.6" fill="#8a9a3b" stroke="#8a9a3b" stroke-width="2" stroke-linejoin="round"/>
<ellipse cx="468.8" cy="346.6" rx="6.3" ry="9.8" fill="none" stroke="#ffffff" stroke-width="1.1" transform="rotate(8 468.8 346.6)"/>
<path d="M471.2,339 L465.6,347.8 L468.6,347.2 L466.4,354.5 L472,345.6 L469,346.2 Z" fill="#ffffff"/>
<polygon points="502.2,323.6 518.4,317.4 519.2,337.4 502.8,343.6" fill="#125a8c" stroke="#125a8c" stroke-width="1.6" stroke-linejoin="round"/>
<polygon points="503.2,322.8 518.8,317.0 519.6,336.4 503.6,342.4" fill="#1f7ab6" stroke="#1f7ab6" stroke-width="1.6" stroke-linejoin="round"/>
<path d="M506,336.2 A5.8,6.4 -20 0 1 517,331.6 L514.6,332.6 A3.4,3.8 -20 0 0 508.4,335.2 Z" fill="none" stroke="#ffffff" stroke-width="0.9"/><path d="M511.5,334 L514.5,327.8" stroke="#ffffff" stroke-width="0.9"/>
<text x="534" y="304.4" font-family="Liberation Sans, sans-serif" font-weight="bold" font-size="24" fill="#7d8aa8" opacity="0.22" textLength="74" lengthAdjust="spacingAndGlyphs">SolarV</text>
<text x="290" y="277.6" font-family="Liberation Sans, sans-serif" font-weight="bold" font-size="42.7" fill="#7d8aa8" opacity="0.10" textLength="316" lengthAdjust="spacingAndGlyphs">VUPHONG</text>
<rect x="134" y="195" width="113" height="29" fill="#ffffff"/>
<text x="136.8" y="206" font-family="'Liberation Sans', sans-serif" font-size="9.8" font-weight="normal" fill="#111111" textLength="104" lengthAdjust="spacingAndGlyphs">Tấm NLMT hấp thụ ánh sáng</text>
<text x="136.8" y="216.2" font-family="'Liberation Sans', sans-serif" font-size="9.8" font-weight="normal" fill="#111111" textLength="109.6" lengthAdjust="spacingAndGlyphs">mặt trời tạo ra điện một chiều</text>
<rect x="144.3" y="224" width="130.2" height="59.19999999999999" rx="3" ry="3" fill="#1782c2"/>
<text x="156.6" y="244.8" font-family="'Liberation Sans', sans-serif" font-size="10.4" fill="#bfe4f5" stroke="#bfe4f5" stroke-width="0.25" textLength="99" lengthAdjust="spacingAndGlyphs">Solar panels absorb sun-</text>
<text x="156.6" y="255.9" font-family="'Liberation Sans', sans-serif" font-size="10.4" fill="#bfe4f5" stroke="#bfe4f5" stroke-width="0.25" textLength="98.4" lengthAdjust="spacingAndGlyphs">light and convert it to DC</text>
<text x="156.6" y="267" font-family="'Liberation Sans', sans-serif" font-size="10.4" fill="#bfe4f5" stroke="#bfe4f5" stroke-width="0.25" textLength="41.5" lengthAdjust="spacingAndGlyphs">electricity.</text>
<circle cx="273.3" cy="225.5" r="17.5" fill="#1782c2"/>
<circle cx="273.3" cy="225.5" r="15.7" fill="#ffffff"/>
<circle cx="273.3" cy="225.5" r="14.4" fill="#ef6a27"/>
<text x="273.3" y="232.9" text-anchor="middle" font-family="'Liberation Serif', serif" font-weight="bold" font-size="22" fill="#ffffff">1</text>
<rect x="304" y="402" width="158" height="43" fill="#ffffff"/>
<rect x="317.8" y="333.3" width="129.5" height="69.5" rx="3" ry="3" fill="#1782c2"/>
<text x="328" y="355" font-family="'Liberation Sans', sans-serif" font-size="10.4" fill="#bfe4f5" stroke="#bfe4f5" stroke-width="0.25" textLength="91" lengthAdjust="spacingAndGlyphs">DC electricity from the</text>
<text x="328" y="366.2" font-family="'Liberation Sans', sans-serif" font-size="10.4" fill="#bfe4f5" stroke="#bfe4f5" stroke-width="0.25" textLength="103" lengthAdjust="spacingAndGlyphs">solar panels travels to the</text>
<text x="328" y="377.4" font-family="'Liberation Sans', sans-serif" font-size="10.4" fill="#bfe4f5" stroke="#bfe4f5" stroke-width="0.25" textLength="74" lengthAdjust="spacingAndGlyphs">inverters where it is</text>
<text x="328" y="388.6" font-family="'Liberation Sans', sans-serif" font-size="10.4" fill="#bfe4f5" stroke="#bfe4f5" stroke-width="0.25" textLength="106.8" lengthAdjust="spacingAndGlyphs">converted to AC electricity.</text>
<text x="305.3" y="413.5" font-family="'Liberation Sans', sans-serif" font-size="9.8" font-weight="normal" fill="#111111" textLength="135" lengthAdjust="spacingAndGlyphs">Điện một chiều (DC) đi qua BỘ HÒA</text>
<text x="305.3" y="424.4" font-family="'Liberation Sans', sans-serif" font-size="9.8" font-weight="normal" fill="#111111" textLength="152" lengthAdjust="spacingAndGlyphs">LƯỚI chuyển thành điện xoay chiều (AC)</text>
<text x="305.3" y="435.5" font-family="'Liberation Sans', sans-serif" font-size="9.8" font-weight="normal" fill="#111111" textLength="129" lengthAdjust="spacingAndGlyphs">cùng pha cùng tần số với điện lưới</text>
<circle cx="446.3" cy="336" r="17.5" fill="#1782c2"/>
<circle cx="446.3" cy="336" r="15.7" fill="#ffffff"/>
<circle cx="446.3" cy="336" r="14.4" fill="#ef6a27"/>
<text x="446.3" y="343.2" text-anchor="middle" font-family="'Liberation Sans', sans-serif" font-size="20" fill="#ffffff">2</text>
<rect x="538" y="415" width="159.5" height="32.5" fill="#ffffff"/>
<rect x="538" y="345" width="155.70000000000005" height="70.5" rx="3" ry="3" fill="#1782c2"/>
<text x="558.3" y="360" font-family="'Liberation Sans', sans-serif" font-size="10.4" fill="#bfe4f5" stroke="#bfe4f5" stroke-width="0.25" textLength="84" lengthAdjust="spacingAndGlyphs">From the inverter, AC</text>
<text x="558.3" y="371.8" font-family="'Liberation Sans', sans-serif" font-size="10.4" fill="#bfe4f5" stroke="#bfe4f5" stroke-width="0.25" textLength="95" lengthAdjust="spacingAndGlyphs">electricity passes to the</text>
<text x="558.3" y="383.8" font-family="'Liberation Sans', sans-serif" font-size="10.4" fill="#bfe4f5" stroke="#bfe4f5" stroke-width="0.25" textLength="121" lengthAdjust="spacingAndGlyphs">electric service panel (breaker</text>
<text x="558.3" y="395.8" font-family="'Liberation Sans', sans-serif" font-size="10.4" fill="#bfe4f5" stroke="#bfe4f5" stroke-width="0.25" textLength="124.3" lengthAdjust="spacingAndGlyphs">box) where it’s routed to power</text>
<text x="558.3" y="407.5" font-family="'Liberation Sans', sans-serif" font-size="10.4" fill="#bfe4f5" stroke="#bfe4f5" stroke-width="0.25" textLength="54" lengthAdjust="spacingAndGlyphs">your building.</text>
<text x="538.8" y="427" font-family="'Liberation Sans', sans-serif" font-size="9.8" font-weight="normal" fill="#111111" textLength="156" lengthAdjust="spacingAndGlyphs">Từ bộ hòa lưới, dòng điện xoay chiều (AC)</text>
<text x="538.8" y="438.8" font-family="'Liberation Sans', sans-serif" font-size="9.8" font-weight="normal" fill="#111111" textLength="158" lengthAdjust="spacingAndGlyphs">đi đến tủ điện để cung cấp cho các thiết bị.</text>
<circle cx="536.6" cy="345.8" r="17.5" fill="#1782c2"/>
<circle cx="536.6" cy="345.8" r="15.7" fill="#ffffff"/>
<circle cx="536.6" cy="345.8" r="14.4" fill="#ef6a27"/>
<text x="536.6" y="353.0" text-anchor="middle" font-family="'Liberation Sans', sans-serif" font-size="20" fill="#ffffff">3</text>
<rect x="644.8" y="234.3" width="131.4000000000001" height="100.39999999999998" rx="3" ry="3" fill="#1782c2"/>
<text x="657.5" y="254.9" font-family="'Liberation Sans', sans-serif" font-size="10.4" fill="#bfe4f5" stroke="#bfe4f5" stroke-width="0.25" textLength="94" lengthAdjust="spacingAndGlyphs">When your solar system</text>
<text x="657.5" y="266.8" font-family="'Liberation Sans', sans-serif" font-size="10.4" fill="#bfe4f5" stroke="#bfe4f5" stroke-width="0.25" textLength="110" lengthAdjust="spacingAndGlyphs">generates more power than</text>
<text x="657.5" y="278.7" font-family="'Liberation Sans', sans-serif" font-size="10.4" fill="#bfe4f5" stroke="#bfe4f5" stroke-width="0.25" textLength="107" lengthAdjust="spacingAndGlyphs">your building is consuming,</text>
<text x="657.5" y="290.7" font-family="'Liberation Sans', sans-serif" font-size="10.4" fill="#bfe4f5" stroke="#bfe4f5" stroke-width="0.25" textLength="107" lengthAdjust="spacingAndGlyphs">excess electricity is routed</text>
<text x="657.5" y="302.7" font-family="'Liberation Sans', sans-serif" font-size="10.4" fill="#bfe4f5" stroke="#bfe4f5" stroke-width="0.25" textLength="114" lengthAdjust="spacingAndGlyphs">to the power grid. This earns</text>
<text x="657.5" y="314.7" font-family="'Liberation Sans', sans-serif" font-size="10.4" fill="#bfe4f5" stroke="#bfe4f5" stroke-width="0.25" textLength="100" lengthAdjust="spacingAndGlyphs">credits on your bill (called</text>
<text x="657.5" y="326.7" font-family="'Liberation Sans', sans-serif" font-size="10.4" fill="#bfe4f5" stroke="#bfe4f5" stroke-width="0.25" textLength="55" lengthAdjust="spacingAndGlyphs">net-metering).</text>
<rect x="663" y="192" width="122" height="34.5" fill="#ffffff"/>
<text x="665.4" y="201" font-family="'Liberation Sans', sans-serif" font-size="9.8" font-weight="normal" fill="#111111" textLength="104" lengthAdjust="spacingAndGlyphs">Khi điện mặt trời tạo ra nhiều</text>
<text x="665.4" y="211.6" font-family="'Liberation Sans', sans-serif" font-size="9.8" font-weight="normal" fill="#111111" textLength="110.2" lengthAdjust="spacingAndGlyphs">hơn lượng cần thiết, điện dư sẽ</text>
<text x="665.4" y="222.2" font-family="'Liberation Sans', sans-serif" font-size="9.8" font-weight="normal" fill="#111111" textLength="68" lengthAdjust="spacingAndGlyphs">được đưa lên lưới.</text>
<circle cx="640.5" cy="234.2" r="17.5" fill="#1782c2"/>
<circle cx="640.5" cy="234.2" r="15.7" fill="#ffffff"/>
<circle cx="640.5" cy="234.2" r="14.4" fill="#ef6a27"/>
<text x="640.5" y="241.39999999999998" text-anchor="middle" font-family="'Liberation Sans', sans-serif" font-size="20" fill="#ffffff">4</text>
<rect x="20" y="501.5" width="386" height="10.5" fill="#fbfbfc"/>
<text x="22" y="491.5" font-family="'Liberation Sans', sans-serif" font-size="10.8" font-weight="bold" fill="#b5521f" textLength="421" lengthAdjust="spacingAndGlyphs">Vào ban ngày, thiết bị sẽ ưu tiên dùng điện mặt trời, nếu không đủ sẽ lấy thêm điện lưới bù vào.</text>
<text x="22" y="508.7" font-family="'Liberation Sans', sans-serif" font-size="10.8" font-weight="bold" fill="#b5521f" textLength="381.6" lengthAdjust="spacingAndGlyphs">Vào ban đêm hoặc khi không có điện mặt trời, thiết bị sử dụng điện lưới như bình thường.</text>
</svg></body></html>
